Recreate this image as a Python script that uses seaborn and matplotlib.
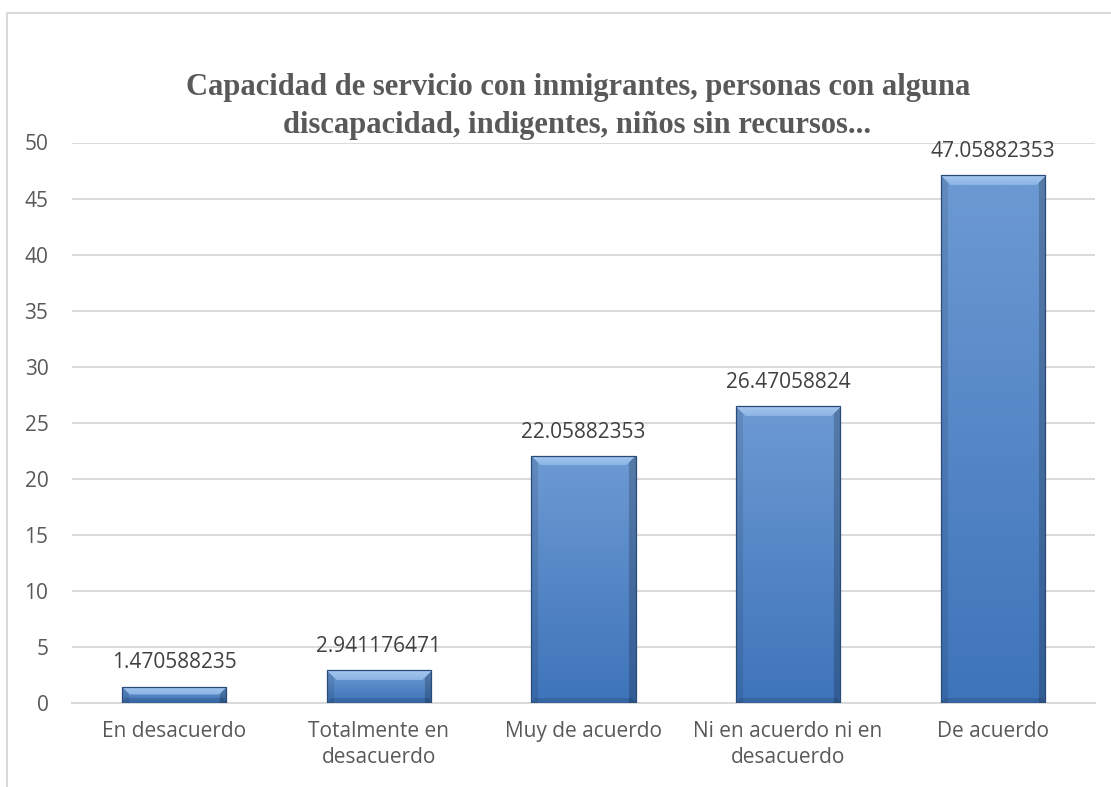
import numpy as np
import pandas as pd
import matplotlib
matplotlib.use("Agg")
import matplotlib.pyplot as plt
import seaborn as sns
from matplotlib.colors import to_rgb
from matplotlib.lines import Line2D

categories = ["En desacuerdo", "Totalmente en\ndesacuerdo", "Muy de acuerdo",
              "Ni en acuerdo ni en\ndesacuerdo", "De acuerdo"]
values = [1.470588235, 2.941176471, 22.05882353, 26.47058824, 47.05882353]
value_labels = ["1.470588235", "2.941176471", "22.05882353", "26.47058824", "47.05882353"]
yticks = [0, 5, 10, 15, 20, 25, 30, 35, 40, 45, 50]
title_lines = ["Capacidad de servicio con inmigrantes, personas con alguna",
               "discapacidad, indigentes, niños sin recursos..."]

sns.set_theme(style="white")
plt.rcParams['font.family'] = ['Open Sans', 'DejaVu Sans']

W, H, DPI = 1111, 787, 100
fig = plt.figure(figsize=(W / DPI, H / DPI), dpi=DPI)
ax = fig.add_axes([72 / W, 1 - 703 / H, (1095 - 72) / W, (703 - 142.5) / H])

df = pd.DataFrame({"cat": categories, "val": values})
sns.barplot(data=df, x="cat", y="val", color="#4A7EC4", width=0.51,
            edgecolor="#2A4A78", linewidth=0.9, ax=ax, zorder=3)

ax.set_ylim(0, 50)
ax.set_xlim(-0.5, len(categories) - 0.5)
ax.set_yticks(yticks)
ax.set_yticklabels([str(t) for t in yticks])
ax.yaxis.grid(True, color="#D9D9D9", linewidth=1.4, zorder=0)
ax.set_axisbelow(True)
for s in ["top", "right", "left"]:
    ax.spines[s].set_visible(False)
ax.spines["bottom"].set_color("#D9D9D9")
ax.spines["bottom"].set_linewidth(1.4)
ax.tick_params(axis="y", length=0, pad=17, labelsize=15, labelcolor="#595959")
ax.tick_params(axis="x", length=0, pad=13, labelsize=15, labelcolor="#595959")
for lab in ax.get_xticklabels():
    lab.set_linespacing(1.3)
ax.set_xlabel("")
ax.set_ylabel("")

# gradient/bevel fill for each bar, built from the bar patches
fig.canvas.draw()
top_c = np.array(to_rgb("#6D9AD3"))
bot_c = np.array(to_rgb("#3E74BA"))
bevel_top = np.array(to_rgb("#A3C6EF"))
for p in ax.patches:
    x0, y0 = p.get_x(), p.get_y()
    w, h = p.get_width(), p.get_height()
    (px0, py0) = ax.transData.transform((x0, y0))
    (px1, py1) = ax.transData.transform((x0 + w, y0 + h))
    nw = max(int(round(px1 - px0)), 2)
    nh = max(int(round(py1 - py0)), 2)
    t = np.linspace(0, 1, nh)[:, None, None]
    img = top_c * (1 - t) + bot_c * t
    img = np.repeat(img, nw, axis=1)
    cols = np.arange(nw)
    b = min(10, nh // 2)
    side = 7
    img[:, cols < side, :] *= 0.9
    img[:, cols >= nw - side, :] *= 0.8
    for r in range(b):
        c0, c1 = r, nw - r
        frac = r / max(b, 1)
        img[r, c0:c1, :] = bevel_top * (1 - 0.45 * frac) + top_c * 0.45 * frac
    for r in range(min(5, nh // 3)):
        rr = nh - 1 - r
        img[rr, r:nw - r, :] *= 0.88
    img = np.clip(img, 0, 1)
    im = ax.imshow(img, extent=(x0, x0 + w, y0, y0 + h), aspect="auto",
                   origin="upper", zorder=3.5, interpolation="bilinear")
    im.set_clip_path(p)
    p.set_zorder(4)
    p.set_facecolor("none")

ax.set_xlim(-0.5, len(categories) - 0.5)
ax.set_ylim(0, 50)

for i, (v, lab) in enumerate(zip(values, value_labels)):
    ax.annotate(lab, xy=(i, v), xytext=(0, 13), textcoords="offset points",
                ha="center", va="baseline", fontsize=15, color="#404040", zorder=5)

fig.text(578 / W, 1 - 88 / H, title_lines[0], ha="center", va="center",
         fontsize=22, fontweight="bold", color="#595959", family="Liberation Serif")
fig.text(577 / W, 1 - 126 / H, title_lines[1], ha="center", va="center",
         fontsize=22, fontweight="bold", color="#595959", family="Liberation Serif")

# chart border
fig.add_artist(Line2D([7 / W, 7 / W], [0, 1 - 13 / H], transform=fig.transFigure,
                      color="#D9D9D9", linewidth=1.5))
fig.add_artist(Line2D([7 / W, 1], [1 - 13 / H, 1 - 13 / H], transform=fig.transFigure,
                      color="#D9D9D9", linewidth=1.5))

fig.savefig("out.png", dpi=DPI)
